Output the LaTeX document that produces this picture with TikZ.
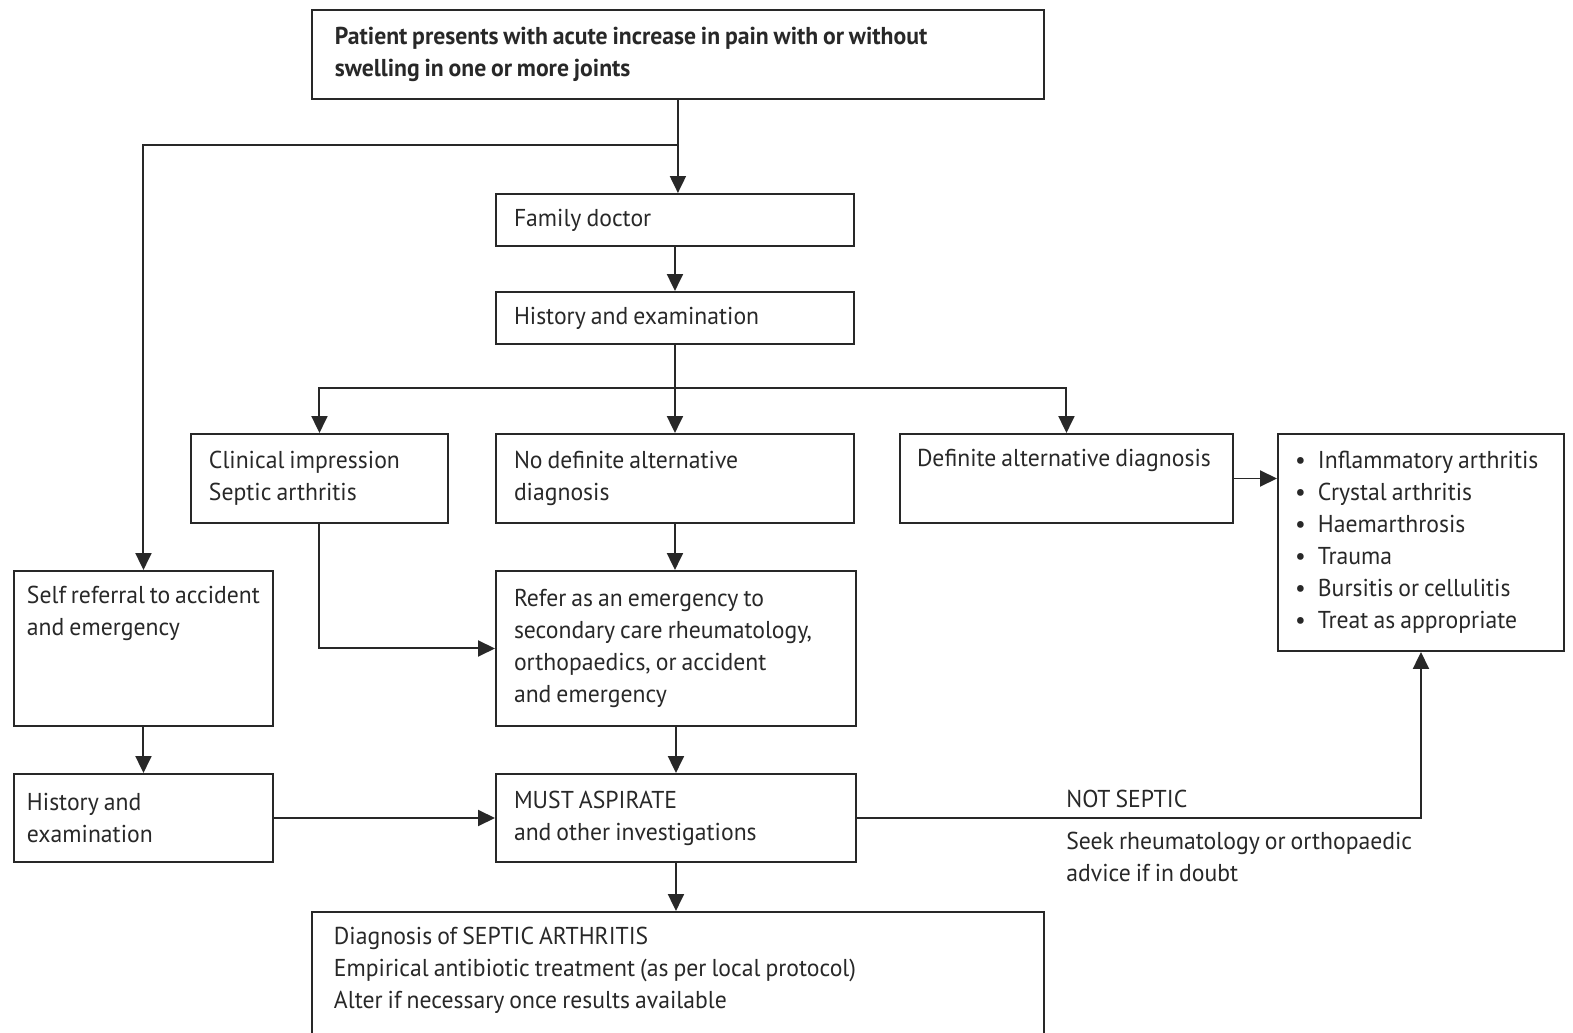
\documentclass[tikz,border=0pt]{standalone}
\usepackage{fontspec}
\setmainfont{PT Sans}[FakeStretch=0.97, WordSpace=0.8]
\usetikzlibrary{arrows.meta}

\definecolor{ink}{RGB}{40,40,40}

\tikzset{
  stage/.style={draw=ink, line width=0.04cm, anchor=north west, align=flush left,
    inner xsep=0.36cm, inner ysep=0.3cm, text=ink,
    font=\fontsize{13.9}{18.2}\selectfont},
  note/.style={inner sep=0pt, align=flush left, text=ink,
    font=\fontsize{13.9}{18.2}\selectfont},
  flow/.style={draw=ink, line width=0.04cm, -{Triangle[length=0.34cm,width=0.32cm]}},
  link/.style={draw=ink, line width=0.04cm}
}

\begin{document}
\begin{tikzpicture}[x=0.02cm, y=-0.02cm]
        \useasboundingbox (0,0) rectangle (1573,1032);

        % boxes, placed by their top left corners
        \node[stage, font=\fontsize{13.9}{18.2}\selectfont\bfseries, inner xsep=0.46cm, text width=13.72cm, minimum height=1.78cm] (onset) at (311,9)
              {Patient presents with acute increase in pain with or without\\swelling in one or more joints};
        \node[stage, text width=6.44cm, minimum height=0.98cm] (gp) at (495,193) {Family doctor};
        \node[stage, text width=6.44cm, minimum height=1.0cm] (hist) at (495,291) {History and examination};

        \node[stage, text width=4.42cm, minimum height=1.78cm] (clin) at (190,433) {Clinical impression\\Septic arthritis};
        \node[stage, text width=6.44cm, minimum height=1.78cm] (nodef) at (495,433) {No definite alternative\\diagnosis};
        \node[stage, inner xsep=0.34cm] (defn) at (899,433) {\parbox[t][1.18cm][t]{5.98cm}{\raggedright Definite alternative diagnosis}};
        \node[stage, inner xsep=0.34cm, text width=5.04cm, minimum height=4.34cm] (bullets) at (1277,433)
              {\textbullet\enspace Inflammatory arthritis\\\textbullet\enspace Crystal arthritis\\\textbullet\enspace Haemarthrosis\\\textbullet\enspace Trauma\\\textbullet\enspace Bursitis or cellulitis\\\textbullet\enspace Treat as appropriate};

        \node[stage, inner xsep=0.26cm] (self) at (13,570) {\parbox[t][2.5cm][t]{4.66cm}{\raggedright Self referral to accident\\and emergency}};
        \node[stage, text width=6.48cm, minimum height=3.1cm] (refer) at (495,570)
              {Refer as an emergency to\\secondary care rheumatology,\\orthopaedics, or accident\\and emergency};

        \node[stage, inner xsep=0.26cm, text width=4.66cm, minimum height=1.76cm] (histL) at (13,773) {History and\\examination};
        \node[stage, text width=6.48cm, minimum height=1.76cm] (must) at (495,773) {MUST ASPIRATE\\and other investigations};

        \node[stage, inner xsep=0.44cm] (diag) at (311,911)
              {\parbox[t][2.6cm][t]{13.76cm}{\raggedright Diagnosis of SEPTIC ARTHRITIS\\Empirical antibiotic treatment (as per local protocol)\\Alter if necessary once results available}};

        \node[note, anchor=base west] (notseptic) at (1066,807) {NOT SEPTIC};
        \node[note, anchor=north west] (advice) at (1066,832) {Seek rheumatology or orthopaedic\\advice if in doubt};

        % connectors
        \coordinate (split) at (onset.south |- 0,145);
        \coordinate (fork) at (hist.south |- 0,388);

        \draw[flow] (onset.south) -- (onset.south |- gp.north);
        \draw[flow] (split) -| (self.north);
        \draw[flow] (gp) -- (hist);

        \draw[link] (hist.south) -- (fork);
        \draw[flow] (fork) -| (clin.north);
        \draw[flow] (fork) -- (fork |- nodef.north);
        \draw[flow] (fork) -| (defn.north);

        \draw[flow] (clin.south) |- (refer.west);
        \draw[flow] (nodef.south) -- (nodef.south |- refer.north);
        \draw[flow] (defn.east) -- (defn.east -| bullets.west);

        \draw[flow] (self.south) -- (self.south |- histL.north);
        \draw[flow] (histL) -- (must);
        \draw[flow] (refer) -- (must);
        \draw[flow] (must.south) -- (must.south |- diag.north);
        \draw[flow] (must.east) -| (bullets.south);
\end{tikzpicture}
\end{document}
